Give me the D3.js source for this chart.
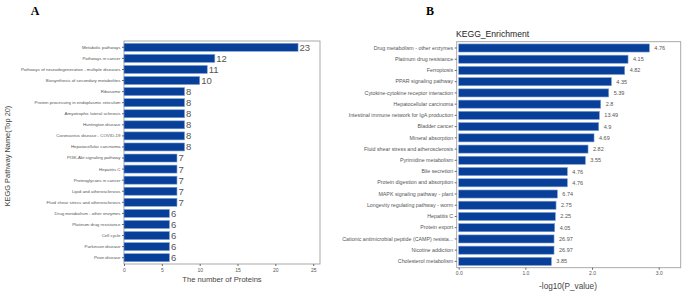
<!DOCTYPE html>
<html>
<head>
<meta charset="utf-8">
<script src="https://cdn.jsdelivr.net/npm/d3@7"></script>
<style>
  body { margin: 0; background: #fff; }
  text { font-family: "Liberation Sans", Arial, sans-serif; }
</style>
</head>
<body>
<div id="chart"></div>
<script>
// panel A: protein counts per pathway (top 20)
const pathwaysA = ["Metabolic pathways", "Pathways in cancer", "Pathways of neurodegeneration - multiple diseases",
  "Biosynthesis of secondary metabolites", "Ribosome", "Protein processing in endoplasmic reticulum",
  "Amyotrophic lateral sclerosis", "Huntington disease", "Coronavirus disease - COVID-19",
  "Hepatocellular carcinoma", "PI3K-Akt signaling pathway", "Hepatitis C", "Proteoglycans in cancer",
  "Lipid and atherosclerosis", "Fluid shear stress and atherosclerosis", "Drug metabolism - other enzymes",
  "Platinum drug resistance", "Cell cycle", "Parkinson disease", "Prion disease"];
const countsA = [23, 12, 11, 10, 8, 8, 8, 8, 8, 8, 7, 7, 7, 7, 7, 6, 6, 6, 6, 6];
const ticksA = [0, 5, 10, 15, 20, 25];

// panel B: KEGG enrichment, -log10(p) with the labelled ratio
const pathwaysB = ["Drug metabolism - other enzymes", "Platinum drug resistance", "Ferroptosis",
  "PPAR signaling pathway", "Cytokine-cytokine receptor interaction", "Hepatocellular carcinoma",
  "Intestinal immune network for IgA production", "Bladder cancer", "Mineral absorption",
  "Fluid shear stress and atherosclerosis", "Pyrimidine metabolism", "Bile secretion",
  "Protein digestion and absorption", "MAPK signaling pathway - plant", "Longevity regulating pathway - worm",
  "Hepatitis C", "Protein export", "Cationic antimicrobial peptide (CAMP) resista...",
  "Nicotine addiction", "Cholesterol metabolism"];
const logpB = [2.86, 2.54, 2.49, 2.29, 2.25, 2.13, 2.11, 2.10, 2.03, 1.94, 1.90, 1.63, 1.63,
  1.48, 1.46, 1.45, 1.44, 1.43, 1.43, 1.39];
const labelsB = ["4.76", "4.15", "4.82", "4.35", "5.39", "2.8", "13.49", "4.9", "4.69", "2.82",
  "3.55", "4.76", "4.76", "6.74", "2.75", "2.25", "4.05", "26.97", "26.97", "3.85"];
const ticksB = [0, 1, 2, 3];

const width = 685, height = 296;
const barColor = "#083f98";

const svg = d3.select("#chart").append("svg")
  .attr("width", width)
  .attr("height", height);

function panel(opts) {
  let x = d3.scaleLinear().domain(opts.xDomain).range([opts.left, opts.right]);
  let y = d3.scaleBand().domain(opts.cats).range([opts.top, opts.bottom])
    .paddingInner(0.28).paddingOuter(opts.outer);

  let g = svg.append("g");

  // frame
  g.append("rect")
    .attr("x", opts.left).attr("y", opts.top)
    .attr("width", opts.right - opts.left).attr("height", opts.bottom - opts.top)
    .attr("fill", "none").attr("stroke", "#a0a0a0").attr("stroke-width", 0.9);

  g.selectAll("rect.bar")
    .data(opts.values)
    .join("rect")
    .attr("class", "bar")
    .attr("x", x(0))
    .attr("y", (d, i) => y(opts.cats[i]))
    .attr("width", d => x(d) - x(0))
    .attr("height", y.bandwidth())
    .attr("fill", barColor)
    .attr("stroke", "#7c9fd6")
    .attr("stroke-width", 0.6);

  g.selectAll("text.val")
    .data(opts.values)
    .join("text")
    .attr("class", "val")
    .attr("x", d => x(d) + opts.valGap)
    .attr("y", (d, i) => y(opts.cats[i]) + y.bandwidth() / 2)
    .attr("dy", "0.36em")
    .attr("font-size", opts.valSize)
    .attr("fill", "#555")
    .text((d, i) => opts.labels[i]);

  let yAxis = d3.axisLeft(y).tickSize(2).tickPadding(1.5);
  let ya = g.append("g").attr("transform", `translate(${opts.left},0)`).call(yAxis);
  ya.select(".domain").remove();
  ya.selectAll("line").attr("stroke", "#666");
  ya.selectAll("text").attr("font-size", opts.catSize).attr("fill", "#555")
    .style("font-family", "Liberation Sans, Arial, sans-serif");

  let xAxis = d3.axisBottom(x).tickValues(opts.ticks).tickSize(2).tickPadding(2);
  let xa = g.append("g").attr("transform", `translate(0,${opts.bottom})`).call(xAxis);
  xa.select(".domain").remove();
  xa.selectAll("line").attr("stroke", "#666");
  xa.selectAll("text").attr("font-size", 5).attr("fill", "#555")
    .style("font-family", "Liberation Sans, Arial, sans-serif");

  return g;
}

panel({
  cats: pathwaysA, values: countsA, labels: countsA.map(String), ticks: ticksA,
  xDomain: [0, 25.9], left: 124, right: 320, top: 41, bottom: 264, outer: 0.21,
  valGap: 1.5, valSize: 9.5, catSize: 4.4
});

panel({
  cats: pathwaysB, values: logpB, labels: labelsB, ticks: ticksB,
  xDomain: [-0.03, 3.33], left: 456.7, right: 680.7, top: 41.7, bottom: 267.7, outer: 0.2,
  valGap: 5, valSize: 5.5, catSize: 5.3
});

// titles
svg.append("text").attr("x", 35).attr("y", 15).attr("text-anchor", "middle")
  .attr("font-size", 12).attr("font-weight", "bold")
  .style("font-family", "Liberation Serif, serif").text("A");
svg.append("text").attr("x", 430).attr("y", 15).attr("text-anchor", "middle")
  .attr("font-size", 12).attr("font-weight", "bold")
  .style("font-family", "Liberation Serif, serif").text("B");

svg.append("text").attr("x", 456).attr("y", 36.5)
  .attr("font-size", 8.6).attr("fill", "#222").text("KEGG_Enrichment");

svg.append("text").attr("x", 222).attr("y", 282).attr("text-anchor", "middle")
  .attr("font-size", 7.6).attr("fill", "#444").text("The number of Proteins");

svg.append("text").attr("x", 568).attr("y", 289).attr("text-anchor", "middle")
  .attr("font-size", 8.2).attr("fill", "#444").text("-log10(P_value)");

svg.append("text").attr("transform", "translate(9.5,156) rotate(-90)").attr("text-anchor", "middle")
  .attr("font-size", 7.4).attr("fill", "#444").text("KEGG Pathway Name(Top 20)");
</script>
</body>
</html>
